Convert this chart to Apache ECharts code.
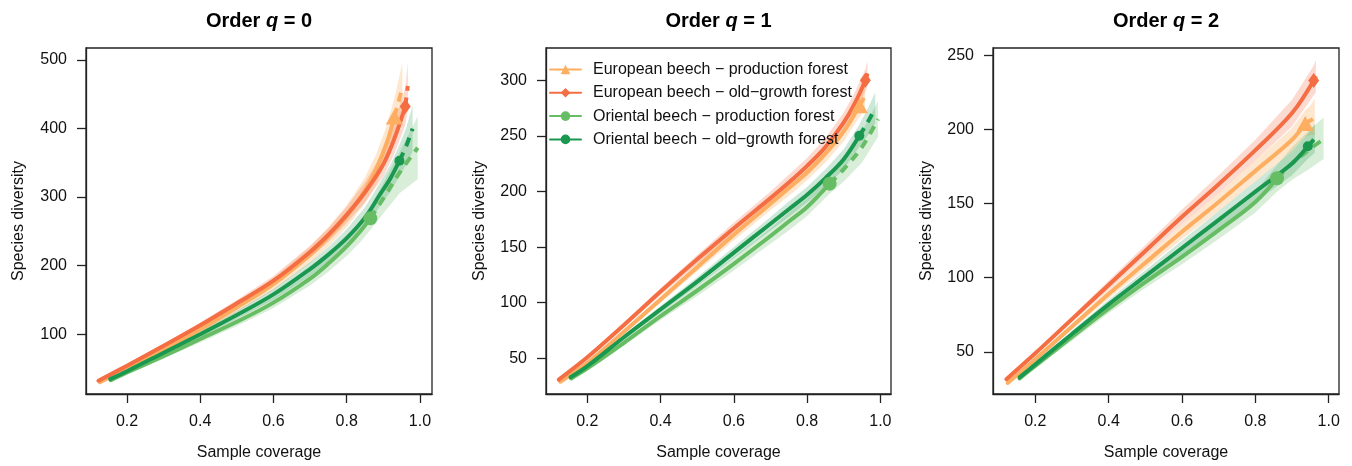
<!DOCTYPE html>
<html>
<head>
<meta charset="utf-8">
<script src="https://cdn.jsdelivr.net/npm/echarts@6/dist/echarts.min.js"></script>
<style>
html,body{margin:0;padding:0;background:#fff;}
#chart{width:1352px;height:466px;}
</style>
</head>
<body>
<div id="chart"></div>
<script>
// ---------------- DATA ----------------
const groupNames = [
  'European beech \u2212 production forest',
  'European beech \u2212 old\u2212growth forest',
  'Oriental beech \u2212 production forest',
  'Oriental beech \u2212 old\u2212growth forest'
];
const panelTitles = ['0', '1', '2'];
const xTicks = [0.2, 0.4, 0.6, 0.8, 1.0];
const yTicksQ0 = [100, 200, 300, 400, 500];
const yTicksQ1 = [50, 100, 150, 200, 250, 300];
const yTicksQ2 = [50, 100, 150, 200, 250];

// rows: [sample coverage, diversity estimate, lower CI, upper CI]
// q = 0
const q0_EP = [[0.126,30,29,31],[0.2,50,48,52],[0.3,78,75,81],[0.4,107,102,112],[0.5,139,132,146],[0.6,173,164,182],[0.7,216,204,228],[0.75,242,228,256],[0.8,272,256,288],[0.85,310,291,329],[0.88,340,318,362],[0.91,380,355,405],[0.93,417,390,444],[0.94,436,405,467],[0.952,460,424,496]];
const q0_EO = [[0.122,32,31,33],[0.2,54,52,56],[0.3,83,80,86],[0.4,113,109,117],[0.5,145,140,150],[0.6,178,171,185],[0.7,220,211,229],[0.75,245,235,255],[0.8,274,262,286],[0.85,307,292,322],[0.9,348,330,366],[0.93,385,363,407],[0.96,432,405,459],[0.9635,447,416,478],[0.967,462,428,497]];
const q0_OP = [[0.156,33,32,34],[0.2,44,42,46],[0.3,68,65,71],[0.4,93,88,98],[0.5,118,112,124],[0.6,146,138,154],[0.7,181,171,191],[0.75,203,191,215],[0.8,228,214,242],[0.84,252,236,268],[0.8645,269,252,286],[0.9,298,276,320],[0.945,336,306,366],[0.994,372,326,418]];
const q0_OO = [[0.154,34.5,33.5,35.5],[0.2,46,44,48],[0.3,73,70,76],[0.4,100,96,104],[0.5,128,122,134],[0.6,158,150,166],[0.7,195,185,205],[0.75,216,205,227],[0.8,240,227,253],[0.85,270,255,285],[0.89,303,286,320],[0.92,328,308,348],[0.944,353,330,376],[0.963,375,348,402],[0.98,400,366,434]];
const q0_observed = [0.93, 0.96, 0.8645, 0.944];
// q = 1
const q1_EP = [[0.126,29,28,30],[0.2,46,44.5,47.5],[0.3,74,72,76],[0.4,103,100,106],[0.5,132,128,136],[0.6,161,156,166],[0.7,189,183,195],[0.75,203,196,210],[0.8,217,210,224],[0.85,234,226,242],[0.9,254,245,263],[0.943,277,267,287],[0.95,281,270,292],[0.958,286,273,299]];
const q1_EO = [[0.122,31,30,32],[0.2,51,49.5,52.5],[0.3,80,78,82],[0.4,110,107,113],[0.5,139,135,143],[0.6,167,162,172],[0.7,194,188,200],[0.75,208,201,215],[0.8,223,216,230],[0.85,240,232,248],[0.9,262,253,271],[0.93,279,269,289],[0.959,300,290,310],[0.962,303,292,314],[0.965,306,295,317]];
const q1_OP = [[0.156,32,31,33],[0.2,41,39.5,42.5],[0.3,64,61.5,66.5],[0.4,88,84.5,91.5],[0.5,111,106,116],[0.6,135,129,141],[0.7,160,153,167],[0.75,173,165,181],[0.8,186,178,194],[0.8615,207,198,216],[0.9,220,209,231],[0.95,240,226,254],[0.9935,265,249,281]];
const q1_OO = [[0.154,33,32,34],[0.2,43,41.5,44.5],[0.3,69,67,71],[0.4,94,91,97],[0.5,119,115,123],[0.6,145,140,150],[0.7,171,165,177],[0.75,184,177,191],[0.8,197,190,204],[0.85,212,204,220],[0.9,229,220,238],[0.9425,250,240,260],[0.965,262,250,274],[0.986,275,261,289]];
const q1_observed = [0.943, 0.959, 0.8615, 0.9425];
// q = 2
const q2_EP = [[0.1245,29,28,30],[0.2,45,43.5,46.5],[0.3,67,65,69],[0.4,89,86,92],[0.5,110,106,114],[0.6,131,126,136],[0.7,151,145,157],[0.8,172,165,179],[0.9,193,185,201],[0.936,204,195,213],[0.95,206,196,216],[0.962,208,196,221]];
const q2_EO = [[0.121,31.5,30.5,32.5],[0.2,49,47.5,50.5],[0.3,72,70,74],[0.4,95,92,98],[0.5,118,114,122],[0.6,141,136,146],[0.7,163,157,169],[0.8,186,179,193],[0.9,211,202,220],[0.959,233,223,243],[0.962,234.5,224,245],[0.965,236,225,247]];
const q2_OP = [[0.157,32,31,33],[0.2,40.5,39,42],[0.3,60,57.5,62.5],[0.4,79,76,82],[0.5,97,93,101],[0.6,114,109,119],[0.7,132,126,138],[0.8,151,144,158],[0.859,167,158,176],[0.9,177,166,188],[0.945,186,173,199],[0.986,193.5,180,208]];
const q2_OO = [[0.157,32.7,31.7,33.7],[0.2,41.5,40,43],[0.3,62,60,64],[0.4,82,79,85],[0.5,101,97,105],[0.6,120,115,125],[0.7,139,133,145],[0.8,158,151,165],[0.9,177,169,185],[0.943,188.6,180,197],[0.952,191,182,200],[0.962,194,184,204]];
const q2_observed = [0.936, 0.959, 0.859, 0.943];

// ---------------- STYLE ----------------
const lineColors = ['#fdae61', '#f46d43', '#66bd63', '#1a9850'];
const bandColors = ['rgba(253,174,97,0.30)', 'rgba(244,109,67,0.25)', 'rgba(102,189,99,0.25)', 'rgba(26,152,80,0.22)'];
const markerSymbols = ['triangle', 'diamond', 'circle', 'circle'];
const markerSizes = [[17, 15], [11, 15], 14, 10];
const FONT = '"Liberation Sans", Arial, Helvetica, sans-serif';

const panels = [
  {groups: [q0_EP, q0_EO, q0_OP, q0_OO], observed: q0_observed, yTicks: yTicksQ0,
   xr: [0.088, 1.033], yr: [12.7, 517.5], grid: {left: 86, top: 48, width: 346, height: 347}, nameGap: 59},
  {groups: [q1_EP, q1_EO, q1_OP, q1_OO], observed: q1_observed, yTicks: yTicksQ1,
   xr: [0.0872, 1.029], yr: [18, 328.9], grid: {left: 546, top: 48, width: 345, height: 347}, nameGap: 58},
  {groups: [q2_EP, q2_EO, q2_OP, q2_OO], observed: q2_observed, yTicks: yTicksQ2,
   xr: [0.0846, 1.028], yr: [21.5, 254.9], grid: {left: 993, top: 48, width: 346, height: 347}, nameGap: 58}
];

const grids = [], xAxes = [], yAxes = [], titles = [];
const bandSeries = [], lineSeries = [], markerSeries = [], legendSeries = [];

panels.forEach(function (p, pi) {
  grids.push(Object.assign({show: true, borderColor: '#222', borderWidth: 1.3, backgroundColor: 'transparent'}, p.grid));
  xAxes.push({
    gridIndex: pi, type: 'value', min: p.xr[0], max: p.xr[1],
    name: 'Sample coverage', nameLocation: 'middle', nameGap: 51,
    nameTextStyle: {fontFamily: FONT, fontSize: 16, color: '#111'},
    axisLine: {show: true, lineStyle: {color: '#222', width: 1.3}},
    axisTick: {show: true, inside: false, length: 9, customValues: xTicks, lineStyle: {color: '#222', width: 1.3}},
    axisLabel: {show: true, customValues: xTicks, margin: 20, fontFamily: FONT, fontSize: 16, color: '#111',
      formatter: function (v) { return Number(v).toFixed(1); }},
    splitLine: {show: false}
  });
  yAxes.push({
    gridIndex: pi, type: 'value', min: p.yr[0], max: p.yr[1],
    name: 'Species diversity', nameLocation: 'middle', nameGap: p.nameGap,
    nameTextStyle: {fontFamily: FONT, fontSize: 16, color: '#111'},
    axisLine: {show: true, lineStyle: {color: '#222', width: 1.3}},
    axisTick: {show: true, inside: false, length: 9, customValues: p.yTicks, lineStyle: {color: '#222', width: 1.3}},
    axisLabel: {show: true, customValues: p.yTicks, margin: 19, fontFamily: FONT, fontSize: 16, color: '#111'},
    splitLine: {show: false}
  });
  titles.push({
    text: '{a|Order }{b|q}{a| = ' + panelTitles[pi] + '}',
    left: p.grid.left + p.grid.width / 2, top: 11, padding: 0, textAlign: 'center',
    textStyle: {rich: {
      a: {fontFamily: FONT, fontSize: 20, fontWeight: 'bold', color: '#000'},
      b: {fontFamily: FONT, fontSize: 20, fontWeight: 'bold', fontStyle: 'italic', color: '#000'}
    }}
  });

  p.groups.forEach(function (rows, gi) {
    const obs = p.observed[gi];
    // confidence band polygon drawn through the axes' scales
    bandSeries.push({
      type: 'custom', name: 'band-' + pi + '-' + gi, xAxisIndex: pi, yAxisIndex: pi,
      silent: true, z: 1,
      data: [[rows[0][0], rows[0][1]]],
      renderItem: function (params, api) {
        const pts = [];
        rows.forEach(function (r) { pts.push(api.coord([r[0], r[3]])); });
        for (let i = rows.length - 1; i >= 0; i--) pts.push(api.coord([rows[i][0], rows[i][2]]));
        return {type: 'polygon', shape: {points: pts, smooth: 0}, style: {fill: bandColors[gi], stroke: null}};
      }
    });
    const solid = rows.filter(function (r) { return r[0] <= obs; }).map(function (r) { return [r[0], r[1]]; });
    const dashed = rows.filter(function (r) { return r[0] >= obs; }).map(function (r) { return [r[0], r[1]]; });
    const solidSeries = {
      type: 'line', name: (pi === 0 ? groupNames[gi] : 'solid-' + pi + '-' + gi),
      xAxisIndex: pi, yAxisIndex: pi, data: solid, smooth: 0.35,
      symbol: markerSymbols[gi], showSymbol: false, silent: true, z: 3,
      lineStyle: {color: lineColors[gi], width: 4, cap: 'round'},
      itemStyle: {color: lineColors[gi]}
    };
    if (pi === 0) legendSeries.push(solidSeries); else lineSeries.push(solidSeries);
    lineSeries.push({
      type: 'line', name: 'dash-' + pi + '-' + gi, xAxisIndex: pi, yAxisIndex: pi, data: dashed,
      smooth: 0.35, showSymbol: false, silent: true, z: 3,
      lineStyle: {color: lineColors[gi], width: 4, type: [9, 7]}
    });
    const obsRow = rows.filter(function (r) { return r[0] === obs; })[0];
    markerSeries.push({
      type: 'scatter', name: 'obs-' + pi + '-' + gi, xAxisIndex: pi, yAxisIndex: pi,
      data: [[obsRow[0], obsRow[1]]], symbol: markerSymbols[gi], symbolSize: markerSizes[gi],
      silent: true, z: 4, itemStyle: {color: lineColors[gi], opacity: 1}
    });
  });
});

const chart = echarts.init(document.getElementById('chart'), null, {renderer: 'canvas'});
chart.setOption({
  animation: false,
  backgroundColor: '#fff',
  title: titles,
  grid: grids,
  xAxis: xAxes,
  yAxis: yAxes,
  legend: {
    data: groupNames, orient: 'vertical', left: 549, top: 61.5, padding: 0,
    itemWidth: 31, itemHeight: 12, itemGap: 7.3, selectedMode: false,
    textStyle: {fontFamily: FONT, fontSize: 16, color: '#111', padding: [0, 0, 0, 7]}
  },
  series: legendSeries.concat(bandSeries, lineSeries, markerSeries)
});
</script>
</body>
</html>
